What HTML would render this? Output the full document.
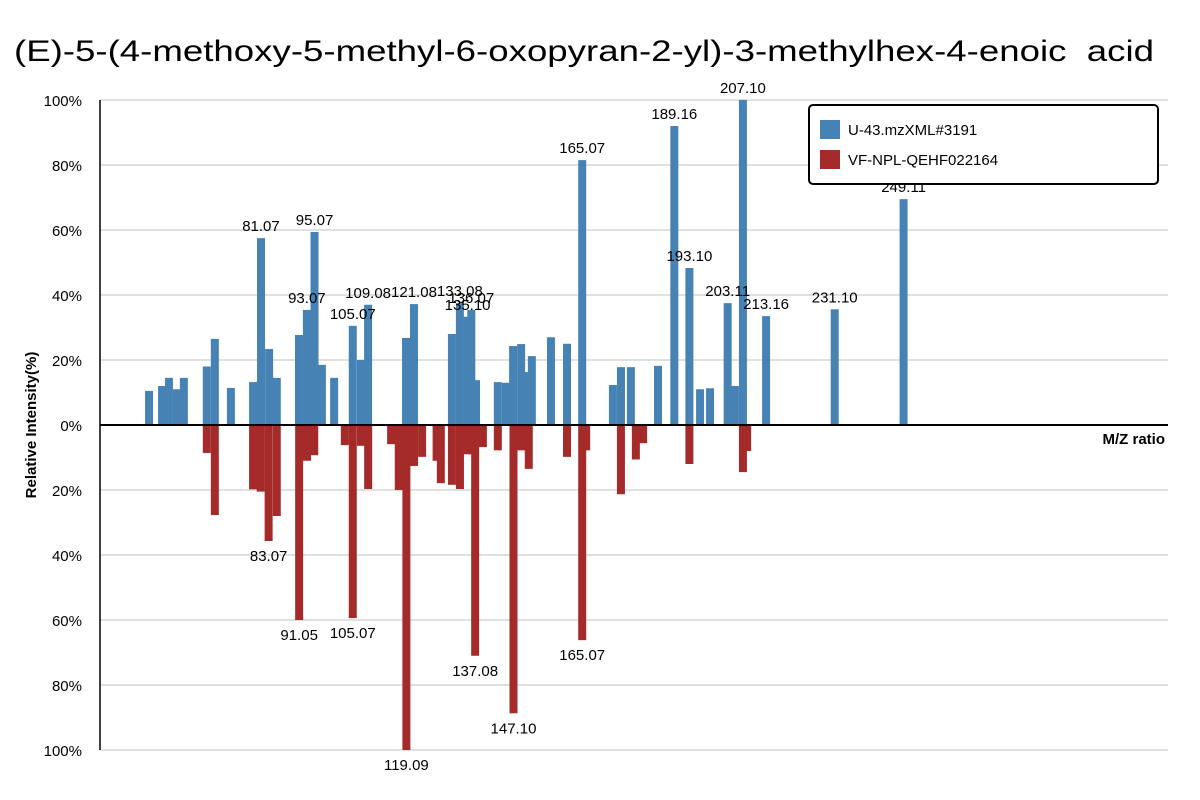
<!DOCTYPE html>
<html><head><meta charset="utf-8"><style>
body{margin:0;background:#fff}
svg{display:block;font-family:"Segoe UI","Liberation Sans",sans-serif}
</style></head><body>
<svg id="chart" width="1200" height="800" xmlns="http://www.w3.org/2000/svg">
<text x="584" y="61" font-size="30" text-anchor="middle" textLength="1140" lengthAdjust="spacingAndGlyphs" xml:space="preserve">(E)-5-(4-methoxy-5-methyl-6-oxopyran-2-yl)-3-methylhex-4-enoic  acid</text>
<g id="grid"></g>
<g id="bars"></g>
<g id="labels"></g>
<g id="axes"></g>
<text x="1165" y="444" font-size="15" font-weight="bold" text-anchor="end">M/Z ratio</text>
<text transform="translate(36,425) rotate(-90)" font-size="15" font-weight="bold" text-anchor="middle">Relative Intensity(%)</text>
<g>
<rect x="809" y="105" width="349" height="79" rx="4" fill="#fff" stroke="#000" stroke-width="2"/>
<rect x="820" y="120" width="20" height="19" fill="#4682b4"/>
<text x="848" y="135" font-size="15">U-43.mzXML#3191</text>
<rect x="820" y="150" width="20" height="19" fill="#a52a2a"/>
<text x="848" y="165" font-size="15">VF-NPL-QEHF022164</text>
</g>
</svg>
<script>
const topMz=[51.8,55.2,57.0,59.1,60.9,66.9,69.0,73.2,79.0,81.07,83.2,85.2,91.0,93.07,95.07,97.0,100.2,105.07,107.2,109.08,119.0,121.08,131.0,133.08,135.10,136.07,137.3,143.0,145.1,147.0,149.1,150.5,151.9,156.9,161.1,165.07,173.1,175.2,177.8,184.9,189.16,193.10,195.9,198.5,203.11,205.0,207.10,213.16,231.10,249.11];
const topInt=[10.5,12,14.5,11,14.5,18,26.5,11.4,13.2,57.5,23.4,14.5,27.7,35.4,59.4,18.5,14.5,30.5,20,37,26.8,37.2,28,37.5,33.3,35.4,13.8,13.2,13,24.3,24.9,16.3,21.2,27,25,81.5,12.3,17.8,17.8,18.2,92,48.3,11,11.3,37.5,12,100,33.5,35.6,69.5];
const botMz=[66.9,69.0,79.0,81.0,83.07,85.2,91.05,93.1,95.0,103.0,105.07,107.2,109.1,115.1,117.1,119.09,121.1,123.2,127.0,128.1,131.0,133.1,135.1,136.1,137.08,139.1,143.0,147.10,149.1,151.1,161.1,165.07,166.1,175.2,179.1,181.0,193.1,207.1,208.2];
const botInt=[8.6,27.7,19.8,20.5,35.7,28,60,11,9.3,6.2,59.4,6.4,19.7,5.9,20,100,12.6,9.8,11,17.9,18.4,19.7,9,9,71,6.8,7.8,88.7,7.8,13.5,9.8,66.2,7.8,21.3,10.6,5.6,12,14.5,8];
const yTicks=[100,80,60,40,20,0,20,40,60,80,100];
const yVals=[100,80,60,40,20,0,-20,-40,-60,-80,-100];
const labelThreshold=30;

const NS="http://www.w3.org/2000/svg";
const X0=100,X1=1168,D0=38.97,D1=318.26,Y0=425,YS=3.25;
function xs(m){return X0+(m-D0)*(X1-X0)/(D1-D0);}
function ys(v){return Y0-v*YS;}
function mk(t,a,p){const e=document.createElementNS(NS,t);for(const k in a)e.setAttribute(k,a[k]);p.appendChild(e);return e;}
const grid=document.getElementById('grid'),bars=document.getElementById('bars'),labels=document.getElementById('labels'),axes=document.getElementById('axes');
yVals.forEach((v,i)=>{
  if(v!==0){const l=mk('line',{x1:X0,x2:X1,y1:ys(v),y2:ys(v),stroke:'#e0e0e0','stroke-width':2},grid);
  
  }
  const t=mk('text',{x:82,y:ys(v)+6,'font-size':15,'text-anchor':'end'},axes);
  t.textContent=yTicks[i]+'%';
  
  
});
const ya=mk('line',{x1:X0,x2:X0,y1:ys(100),y2:ys(-100),stroke:'#000','stroke-width':1.5},axes);


const za=mk('line',{x1:X0,x2:X1,y1:Y0,y2:Y0,stroke:'#000','stroke-width':2},axes);


const W=8;
topMz.forEach((m,i)=>{
  const v=topInt[i];
  const r=mk('rect',{x:xs(m)-W/2,y:ys(v),width:W,height:v*YS,fill:'#4682b4'},bars);
  
  
  if(v>labelThreshold){const t=mk('text',{x:xs(m),y:ys(v)-7,'font-size':15,'text-anchor':'middle'},labels);
  t.textContent=m.toFixed(2);
  
  }
});
botMz.forEach((m,i)=>{
  const v=botInt[i];
  const r=mk('rect',{x:xs(m)-W/2,y:Y0,width:W,height:v*YS,fill:'#a52a2a'},bars);
  
  
  if(v>labelThreshold){const t=mk('text',{x:xs(m),y:ys(-v)+20,'font-size':15,'text-anchor':'middle'},labels);
  t.textContent=m.toFixed(2);
  
  }
});
</script>
</body></html>
